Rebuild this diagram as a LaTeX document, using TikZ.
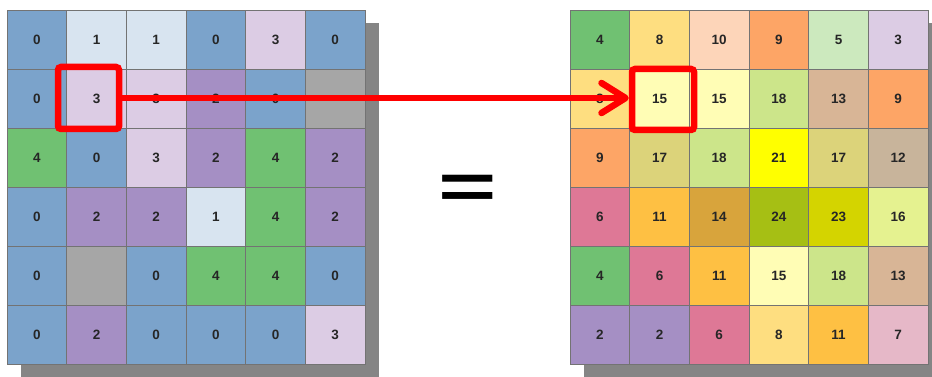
\documentclass[tikz,border=0pt]{standalone}
\usepackage{fontspec}
\setmainfont{Liberation Sans}
\usetikzlibrary{arrows.meta}
\definecolor{Lx}{HTML}{A6A6A6}
\definecolor{L0}{HTML}{7BA3CB}
\definecolor{L1}{HTML}{D8E4F0}
\definecolor{L2}{HTML}{A58FC4}
\definecolor{L3}{HTML}{DCCCE4}
\definecolor{L4}{HTML}{70C172}
\definecolor{R2}{HTML}{A58FC4}
\definecolor{R3}{HTML}{DCCCE4}
\definecolor{R4}{HTML}{70C172}
\definecolor{R5}{HTML}{CCE9BE}
\definecolor{R6}{HTML}{DE7896}
\definecolor{R7}{HTML}{E6B8C8}
\definecolor{R8}{HTML}{FEDE80}
\definecolor{R9}{HTML}{FDA566}
\definecolor{R10}{HTML}{FDD5B9}
\definecolor{R11}{HTML}{FEC043}
\definecolor{R12}{HTML}{C8B49B}
\definecolor{R13}{HTML}{D8B596}
\definecolor{R14}{HTML}{D8A43C}
\definecolor{R15}{HTML}{FFFDB5}
\definecolor{R16}{HTML}{E5F290}
\definecolor{R17}{HTML}{DCD37A}
\definecolor{R18}{HTML}{CCE58A}
\definecolor{R21}{HTML}{FFFF00}
\definecolor{R23}{HTML}{D4D400}
\definecolor{R24}{HTML}{A6BF14}
\definecolor{shadowgray}{HTML}{858585}
\definecolor{hired}{HTML}{FF0000}
\newcommand\celltext[1]{\if x#1\else#1\fi}
\tikzset{
  cell/.style={draw=black!55, line width=0.9pt, minimum width=59.67pt, minimum height=59pt,
    inner sep=0pt, outer sep=0pt, text=black!85, font=\bfseries\fontsize{13.5}{13.5}\selectfont},
  shadowbox/.style={fill=shadowgray},
  redbox/.style={draw=hired, line width=6.5pt, rounded corners=3pt, minimum width=61pt, minimum height=62pt, inner sep=0pt},
  redarrow/.style={draw=hired, line width=6.5pt, -{Straight Barb[length=24pt,width=30pt,round]}}
}
\begin{document}
\begin{tikzpicture}[x=1pt,y=-1pt]
\useasboundingbox (0,0) rectangle (932,377);
\fill[white] (0,0) rectangle (932,377);
% shadows
\fill[shadowbox] (21,23) rectangle (379,377);
\fill[shadowbox] (584,23) rectangle (932,377);
% left grid
\foreach \vals [count=\r from 0] in {{0,1,1,0,3,0},{0,3,3,2,0,x},{4,0,3,2,4,2},{0,2,2,1,4,2},{0,x,0,4,4,0},{0,2,0,0,0,3}}{
  \foreach \v [count=\c from 0] in \vals {
    \node[cell, fill=L\v] (L-\r-\c) at ({7+59.67*(\c+0.5)},{10+59*(\r+0.5)}) {\celltext{\v}};
  }
}
% right grid
\foreach \vals [count=\r from 0] in {{4,8,10,9,5,3},{8,15,15,18,13,9},{9,17,18,21,17,12},{6,11,14,24,23,16},{4,6,11,15,18,13},{2,2,6,8,11,7}}{
  \foreach \v [count=\c from 0] in \vals {
    \node[cell, fill=R\v] (R-\r-\c) at ({570+59.67*(\c+0.5)},{10+59*(\r+0.5)}) {\v};
  }
}
% equals sign
\node[inner sep=0pt, xscale=1.25, yscale=0.8] (eq) at (467.5,192) {\bfseries\fontsize{80}{80}\selectfont =};
% red highlight boxes and arrow
\node[redbox] (lbox) at (88.5,98) {};
\node[redbox, minimum width=62pt, minimum height=61pt] (rbox) at (663,99.5) {};
\draw[redarrow] (lbox.east |- 0,98) -- (rbox.west |- 0,98);
\end{tikzpicture}
\end{document}
